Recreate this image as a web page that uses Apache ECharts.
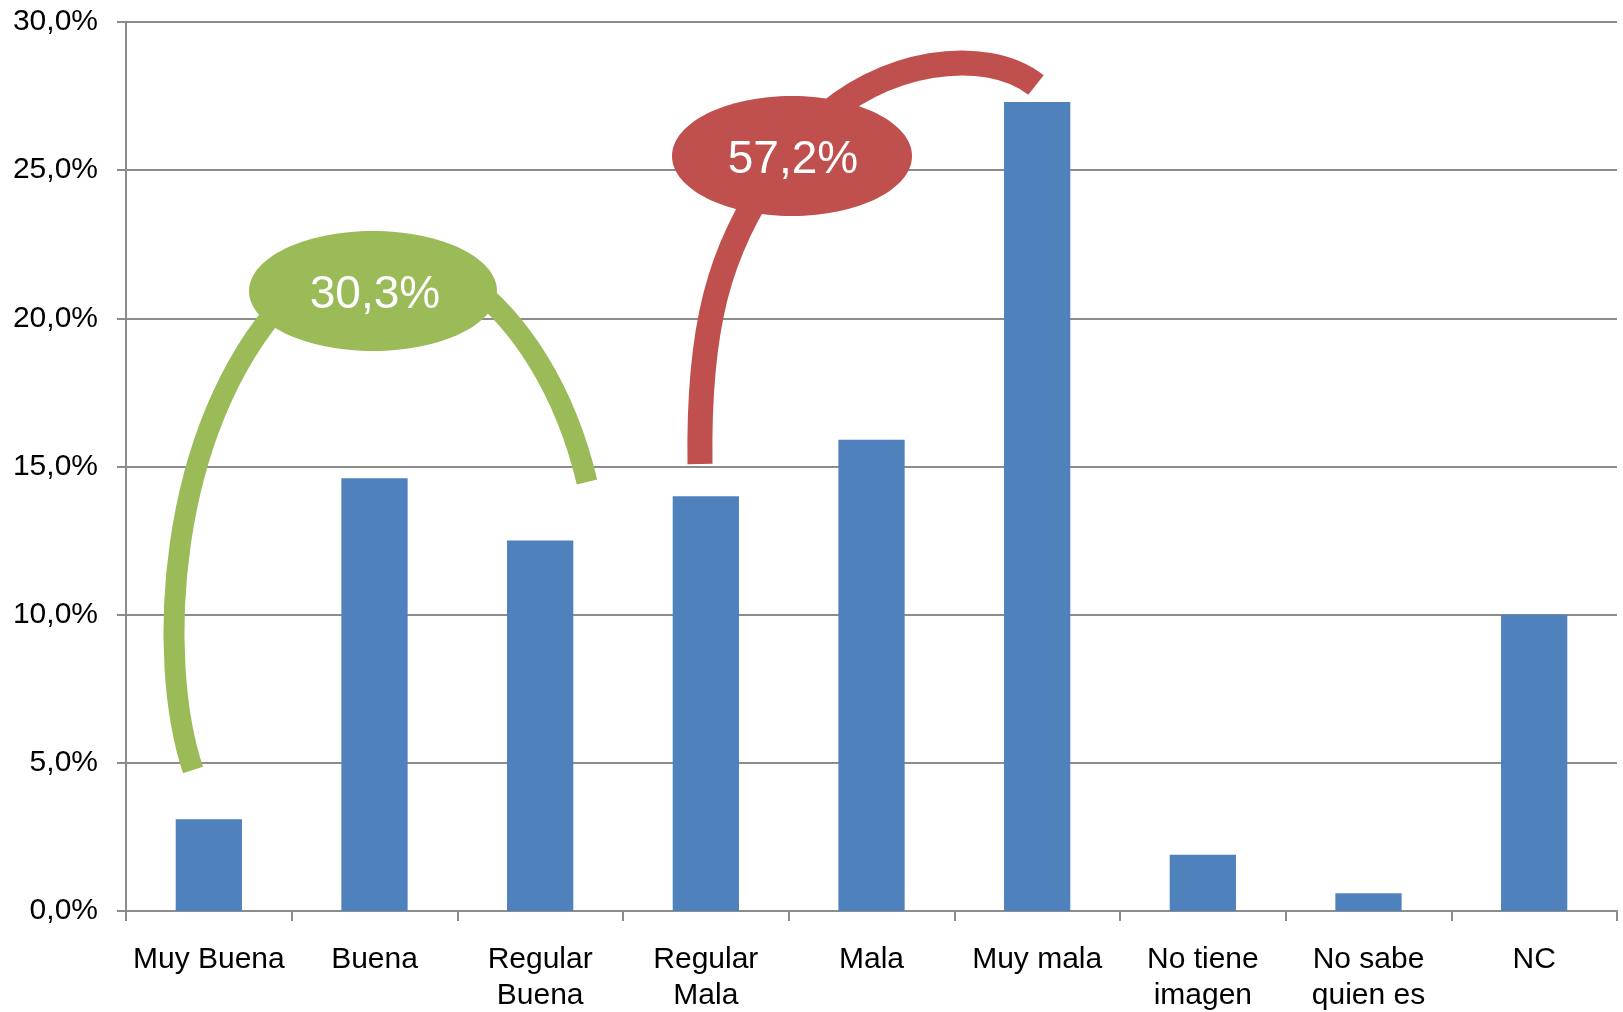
<!DOCTYPE html>
<html>
<head>
<meta charset="utf-8">
<script src="https://cdn.jsdelivr.net/npm/echarts@6/dist/echarts.min.js"></script>
<style>
html,body{margin:0;padding:0;background:#fff;}
#c{width:1623px;height:1012px;}
</style>
</head>
<body>
<div id="c"></div>
<script>
const categories = ['Muy Buena', 'Buena', 'Regular\nBuena', 'Regular\nMala', 'Mala', 'Muy mala', 'No tiene\nimagen', 'No sabe\nquien es', 'NC'];
const values = [3.1, 14.6, 12.5, 14.0, 15.9, 27.3, 1.9, 0.6, 10.0];
const yTicks = [0, 5, 10, 15, 20, 25, 30];
const annotationGood = '30,3%';
const annotationBad = '57,2%';

const FONT = '"Liberation Sans", Arial, sans-serif';
const GRID_COLOR = '#8c8c8c';
const GREEN = '#9BBB59';
const RED = '#C0504D';

const chart = echarts.init(document.getElementById('c'), null, {renderer: 'canvas'});
chart.setOption({
  backgroundColor: '#ffffff',
  animation: false,
  grid: {left: 126, right: 6, top: 22, bottom: 101, containLabel: false, outerBoundsMode: 'none'},
  xAxis: {
    type: 'category',
    data: categories,
    boundaryGap: true,
    axisLine: {show: true, lineStyle: {color: GRID_COLOR, width: 2}},
    axisTick: {show: true, length: 10, interval: 0, lineStyle: {color: GRID_COLOR, width: 2}},
    axisLabel: {interval: 0, margin: 31, color: '#000', fontFamily: FONT, fontSize: 30, lineHeight: 36}
  },
  yAxis: {
    type: 'value',
    min: yTicks[0],
    max: yTicks[yTicks.length - 1],
    interval: yTicks[1] - yTicks[0],
    axisLine: {show: true, lineStyle: {color: GRID_COLOR, width: 2}},
    axisTick: {show: true, length: 9, lineStyle: {color: GRID_COLOR, width: 2}},
    splitLine: {show: true, lineStyle: {color: GRID_COLOR, width: 2}},
    axisLabel: {
      margin: 28, color: '#000', fontFamily: FONT, fontSize: 30,
      formatter: v => v.toFixed(1).replace('.', ',') + '%'
    }
  },
  series: [{
    type: 'bar',
    data: values,
    barCategoryGap: '60%',
    itemStyle: {color: '#4F81BD'},
    z: 2
  }],
  graphic: [
    // green bracket: Muy Buena + Buena + Regular Buena
    {type: 'bezierCurve', z: 10, silent: true,
      shape: {x1: 193, y1: 770, cpx1: 156, cpy1: 660, cpx2: 166, cpy2: 430, x2: 285, y2: 300},
      style: {stroke: GREEN, lineWidth: 21, fill: null, lineCap: 'butt'}},
    {type: 'bezierCurve', z: 10, silent: true,
      shape: {x1: 465, y1: 280, cpx1: 520, cpy1: 320, cpx2: 565, cpy2: 390, x2: 587, y2: 482},
      style: {stroke: GREEN, lineWidth: 21, fill: null, lineCap: 'butt'}},
    {type: 'ellipse', z: 11, silent: true,
      shape: {cx: 373, cy: 291, rx: 124, ry: 60},
      style: {fill: GREEN}},
    {type: 'text', z: 12, silent: true,
      style: {x: 375, y: 295, text: annotationGood, fill: '#fff', font: '46px ' + FONT, align: 'center', verticalAlign: 'middle'}},
    // red bracket: Regular Mala + Mala + Muy mala
    {type: 'bezierCurve', z: 10, silent: true,
      shape: {x1: 700, y1: 464, cpx1: 698, cpy1: 330, cpx2: 718, cpy2: 250, x2: 775, y2: 170},
      style: {stroke: RED, lineWidth: 25, fill: null, lineCap: 'butt'}},
    {type: 'bezierCurve', z: 10, silent: true,
      shape: {x1: 815, y1: 125, cpx1: 880, cpy1: 60, cpx2: 985, cpy2: 45, x2: 1036, y2: 85},
      style: {stroke: RED, lineWidth: 25, fill: null, lineCap: 'butt'}},
    {type: 'ellipse', z: 11, silent: true,
      shape: {cx: 792, cy: 156, rx: 120, ry: 60},
      style: {fill: RED}},
    {type: 'text', z: 12, silent: true,
      style: {x: 793, y: 160, text: annotationBad, fill: '#fff', font: '46px ' + FONT, align: 'center', verticalAlign: 'middle'}}
  ]
});
</script>
</body>
</html>
